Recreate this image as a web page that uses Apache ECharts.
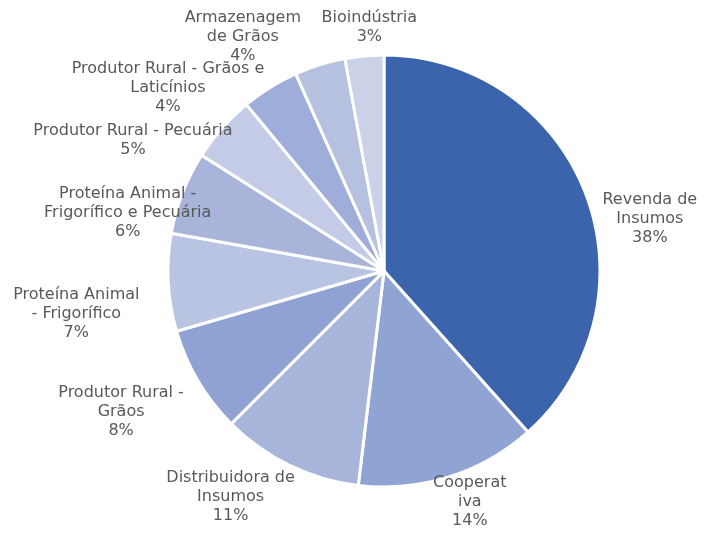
<!DOCTYPE html>
<html>
<head>
<meta charset="utf-8">
<script src="https://cdn.jsdelivr.net/npm/echarts@6/dist/echarts.min.js"></script>
<style>
  html, body { margin: 0; padding: 0; background: #fff; }
  #chart { width: 716px; height: 533px; }
</style>
</head>
<body>
<div id="chart"></div>
<script>
// categorias (ordem horária a partir do topo)
const categories = ['Revenda de Insumos', 'Cooperativa', 'Distribuidora de Insumos', 'Produtor Rural - Grãos',
    'Proteína Animal - Frigorífico', 'Proteína Animal - Frigorífico e Pecuária', 'Produtor Rural - Pecuária',
    'Produtor Rural - Grãos e Laticínios', 'Armazenagem de Grãos', 'Bioindústria']
// quebras de linha como no original
const labelTexts = ['Revenda de\nInsumos', 'Cooperat\niva', 'Distribuidora de\nInsumos', 'Produtor Rural -\nGrãos',
    'Proteína Animal\n- Frigorífico', 'Proteína Animal -\nFrigorífico e Pecuária', 'Produtor Rural - Pecuária',
    'Produtor Rural - Grãos e\nLaticínios', 'Armazenagem\nde Grãos', 'Bioindústria']
// participação (%)
const values = [38.4, 13.5, 10.6, 8.0, 7.3, 6.2, 5.0, 4.3, 3.8, 2.9]

const colors = ['#3C64AC', '#90A4D4', '#A8B5DA', '#8FA2D3', '#B9C3E2', '#A8B4DA', '#C3CBE6', '#9FADDA', '#B6C1E0', '#CBD2E8']
// deslocamento do rótulo a partir da borda da fatia (px)
const labelNudge = [[64, 25], [21, 25], [-59, 32], [-77, 31], [-92, 31], [-55, 20], [-89, 12], [-102, 0], [-77, -28], [5, -29]]

const chart = echarts.init(document.getElementById('chart'))

const option = {
    animation: false,
    series: [{
        type: 'pie',
        center: [384, 271],
        radius: 216,
        startAngle: 90,
        clockwise: true,
        avoidLabelOverlap: false,
        itemStyle: { borderColor: '#fff', borderWidth: 3 },
        label: {
            show: true,
            position: 'outside',
            fontFamily: 'DejaVu Sans',
            fontSize: 16,
            lineHeight: 19,
            color: '#595959',
            width: 300,
            overflow: 'none',
            formatter: (p) => labelTexts[p.dataIndex] + '\n' + Math.round(p.value) + '%'
        },
        labelLine: { show: true, length: 0, length2: 0, lineStyle: { opacity: 0 } },
        labelLayout: (p) => {
            const pt = p.labelLinePoints[0]
            const d = labelNudge[p.dataIndex]
            return { x: pt[0] + d[0], y: pt[1] + d[1], align: 'center', verticalAlign: 'middle' }
        },
        data: categories.map((c, i) => ({ name: c, value: values[i], itemStyle: { color: colors[i] } }))
    }]
}
chart.setOption(option)
</script>
</body>
</html>
